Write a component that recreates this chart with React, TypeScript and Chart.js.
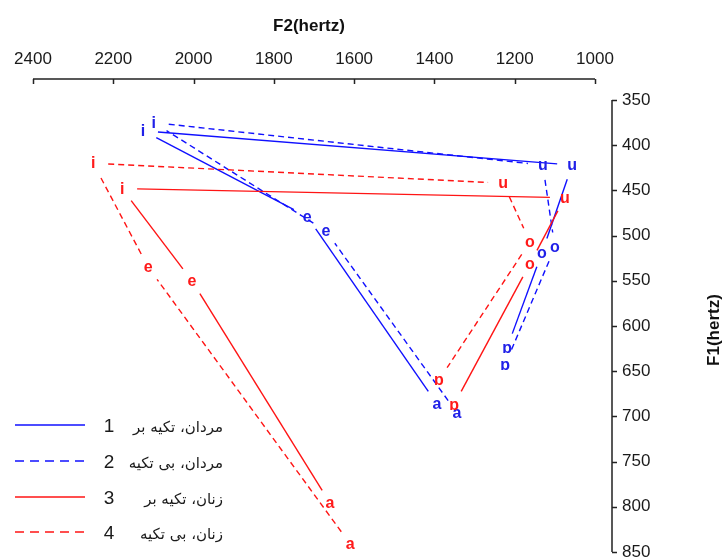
import React, { useEffect, useRef } from 'react';
import { Chart, registerables } from 'chart.js';

Chart.register(...registerables);

// Path order of vowel points in each series (open polygon a-e-i-u-o-ɒ)
const vowelOrder = ['a', 'e', 'i', 'u', 'o', 'ɒ'];

const seriesNumbers = ['1', '2', '3', '4'];
const seriesNames = ['مردان، تکیه بر', 'مردان، بی تکیه', 'زنان، تکیه بر', 'زنان، بی تکیه'];

// F2 (hertz) and F1 (hertz) for each series, in vowelOrder
const menStressedF2 = [1394, 1717, 2126, 1057, 1132, 1219];
const menStressedF1 = [686, 479, 384, 422, 519, 624];
const menUnstressedF2 = [1344, 1670, 2099, 1130, 1100, 1224];
const menUnstressedF1 = [696, 495, 375, 422, 513, 643];
const womenStressedF2 = [1660, 2004, 2178, 1075, 1162, 1351];
const womenStressedF1 = [796, 550, 448, 458, 531, 687];
const womenUnstressedF2 = [1610, 2113, 2250, 1229, 1162, 1389];
const womenUnstressedF1 = [841, 535, 420, 442, 507, 660];

const xTickMin = 1000;
const xTickMax = 2400;
const xTickStep = 200;
const yTickMin = 350;
const yTickMax = 850;
const yTickStep = 50;

const BLUE = '#1010ff';
const RED = '#ff1414';
const BLUE_TEXT = '#2020e8';
const RED_TEXT = '#ff1a1a';
const AXIS = '#222222';
const FONT = 'Arial, "Liberation Sans", sans-serif';

const seriesStyles = [
  { color: BLUE, text: BLUE_TEXT, dashed: false },
  { color: BLUE, text: BLUE_TEXT, dashed: true },
  { color: RED, text: RED_TEXT, dashed: false },
  { color: RED, text: RED_TEXT, dashed: true },
];

const seriesF2 = [menStressedF2, menUnstressedF2, womenStressedF2, womenUnstressedF2];
const seriesF1 = [menStressedF1, menUnstressedF1, womenStressedF1, womenUnstressedF1];

const GAP = 15;

const vowelPlugin = {
  id: 'vowelPlugin',
  afterDatasetsDraw(chart: any) {
    const ctx = chart.ctx;
    chart.data.datasets.forEach((ds: any, di: number) => {
      const meta = chart.getDatasetMeta(di);
      const st = seriesStyles[di];
      const pts = meta.data.map((p: any) => ({ x: p.x, y: p.y }));
      ctx.save();
      ctx.strokeStyle = st.color;
      ctx.lineWidth = 1.4;
      ctx.setLineDash(st.dashed ? [6, 4] : []);
      for (let j = 0; j < pts.length - 1; j++) {
        const a = pts[j];
        const b = pts[j + 1];
        const dx = b.x - a.x;
        const dy = b.y - a.y;
        const len = Math.hypot(dx, dy);
        if (len <= 2 * GAP) continue;
        const ux = dx / len;
        const uy = dy / len;
        ctx.beginPath();
        ctx.moveTo(a.x + ux * GAP, a.y + uy * GAP);
        ctx.lineTo(b.x - ux * GAP, b.y - uy * GAP);
        ctx.stroke();
      }
      ctx.setLineDash([]);
      ctx.fillStyle = st.text;
      ctx.font = 'bold 16px ' + FONT;
      ctx.textAlign = 'center';
      ctx.textBaseline = 'alphabetic';
      pts.forEach((p: any, j: number) => {
        ctx.fillText(vowelOrder[j], p.x, p.y + 5);
      });
      ctx.restore();
    });
  },
  afterDraw(chart: any) {
    const ctx = chart.ctx;
    const xs = chart.scales.x;
    const ys = chart.scales.y;
    const area = chart.chartArea;
    ctx.save();
    ctx.strokeStyle = AXIS;
    ctx.lineWidth = 1.5;
    // top F2 axis
    const axY = area.top - 21;
    const xl = xs.getPixelForValue(xTickMax);
    const xr = xs.getPixelForValue(xTickMin);
    ctx.beginPath();
    ctx.moveTo(xl, axY);
    ctx.lineTo(xr, axY);
    xs.ticks.forEach((t: any) => {
      const px = Math.round(xs.getPixelForValue(t.value)) + 0.5;
      ctx.moveTo(px, axY);
      ctx.lineTo(px, axY + 5);
    });
    ctx.stroke();
    // right F1 axis
    const axX = area.right + 17;
    ctx.beginPath();
    ctx.moveTo(axX, ys.getPixelForValue(yTickMin));
    ctx.lineTo(axX, ys.getPixelForValue(yTickMax));
    ys.ticks.forEach((t: any) => {
      const py = Math.round(ys.getPixelForValue(t.value)) + 0.5;
      ctx.moveTo(axX, py);
      ctx.lineTo(axX + 5, py);
    });
    ctx.stroke();

    // axis titles
    ctx.fillStyle = '#111';
    ctx.font = 'bold 17px ' + FONT;
    ctx.textAlign = 'center';
    ctx.textBaseline = 'middle';
    ctx.fillText('F2(hertz)', (area.left + area.right) / 2 - 5, 26);
    ctx.save();
    ctx.translate(714, (area.top + area.bottom) / 2 + 4);
    ctx.rotate(-Math.PI / 2);
    ctx.fillText('F1(hertz)', 0, 0);
    ctx.restore();

    // legend
    const rows = [425, 461, 497, 532];
    seriesStyles.forEach((st, i) => {
      const y = rows[i];
      ctx.strokeStyle = st.color;
      ctx.lineWidth = 1.5;
      ctx.setLineDash(st.dashed ? [9, 6] : []);
      ctx.beginPath();
      ctx.moveTo(15, y);
      ctx.lineTo(85, y);
      ctx.stroke();
      ctx.setLineDash([]);
      ctx.fillStyle = '#1a1a1a';
      ctx.font = '19px ' + FONT;
      ctx.textAlign = 'center';
      ctx.textBaseline = 'middle';
      ctx.fillText(seriesNumbers[i], 109, y + 2);
      ctx.font = '15px "DejaVu Sans", sans-serif';
      ctx.direction = 'rtl';
      ctx.textAlign = 'right';
      ctx.fillText(seriesNames[i], 223, y + 3, 100);
      ctx.direction = 'ltr';
    });
    ctx.restore();
  },
};

export default function App() {
  const canvasRef = useRef<HTMLCanvasElement | null>(null);

  useEffect(() => {
    const canvas = canvasRef.current;
    if (!canvas) return;
    const datasets = seriesF2.map((f2, i) => ({
      label: seriesNumbers[i] + ' ' + seriesNames[i],
      data: f2.map((x, j) => ({ x, y: seriesF1[i][j] })),
      showLine: false,
      pointRadius: 0,
      pointHoverRadius: 0,
      borderColor: seriesStyles[i].color,
      backgroundColor: seriesStyles[i].color,
    }));
    const chart = new Chart(canvas, {
      type: 'scatter',
      data: { datasets },
      options: {
        responsive: false,
        animation: false,
        events: [],
        layout: { padding: { left: 33, right: 0, top: 0, bottom: 6 } },
        plugins: {
          legend: { display: false },
          tooltip: { enabled: false },
          title: { display: false },
        },
        scales: {
          x: {
            type: 'linear',
            position: 'top',
            reverse: true,
            min: xTickMin,
            max: xTickMax,
            grid: { display: false, drawTicks: false },
            border: { display: false },
            ticks: {
              stepSize: xTickStep,
              padding: 30,
              maxRotation: 0,
              autoSkip: false,
              color: '#1a1a1a',
              font: { size: 17, family: FONT },
              callback: (v: any) => String(v),
            },
            afterFit: (s: any) => {
              s.height = 100;
              s.paddingLeft = 0;
              s.paddingRight = 0;
            },
          },
          y: {
            type: 'linear',
            position: 'right',
            reverse: true,
            min: yTickMin,
            max: yTickMax,
            grid: { display: false, drawTicks: false },
            border: { display: false },
            ticks: {
              stepSize: yTickStep,
              padding: 27,
              autoSkip: false,
              color: '#1a1a1a',
              font: { size: 17, family: FONT },
              callback: (v: any) => String(v),
            },
            afterFit: (s: any) => {
              s.width = 129;
              s.paddingTop = 0;
              s.paddingBottom = 0;
            },
          },
        },
      } as any,
      plugins: [vowelPlugin],
    });
    return () => chart.destroy();
  }, []);

  return (
    <div style={{ position: 'fixed', left: 0, top: 0, width: 724, height: 558, background: '#fff' }}>
      <canvas ref={canvasRef} width={724} height={558} style={{ width: 724, height: 558, display: 'block' }} />
    </div>
  );
}
